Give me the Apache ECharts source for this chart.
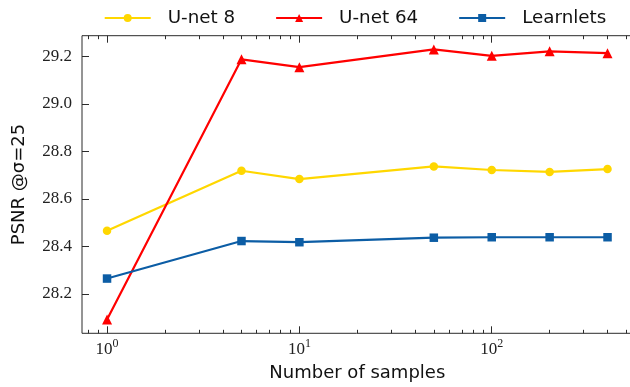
<!DOCTYPE html>
<html>
<head>
<meta charset="utf-8">
<script src="https://cdn.jsdelivr.net/npm/echarts@6/dist/echarts.min.js"></script>
<style>
html,body{margin:0;padding:0;background:#fff;}
#chart{width:630px;height:387px;}
</style>
</head>
<body>
<div id="chart"></div>
<script>
// ---- data ----
const samples = [1, 5, 10, 50, 100, 200, 400];
const unet8 = [28.466, 28.719, 28.684, 28.737, 28.722, 28.714, 28.726];
const unet64 = [28.093, 29.188, 29.155, 29.230, 29.203, 29.222, 29.214];
const learnlets = [28.265, 28.423, 28.418, 28.437, 28.439, 28.439, 28.439];
const seriesNames = ['U-net 8', 'U-net 64', 'Learnlets'];
const xMajorTicks = [1, 10, 100];
const xMinorTicks = [0.8, 0.9, 2, 3, 4, 5, 6, 7, 8, 9, 20, 30, 40, 50, 60, 70, 80, 90, 200, 300, 400, 500];
const yTicks = [28.2, 28.4, 28.6, 28.8, 29.0, 29.2];

const xMin = 0.741, xMax = 540;
const yMin = 28.0345, yMax = 29.2876;

const pairs = ys => samples.map((x, i) => [x, ys[i]]);

const spine = '#2b2b2b';
const serif = '"Liberation Serif", "DejaVu Serif", serif';
const sans = '"DejaVu Sans", sans-serif';

const gridPos = { left: 82, top: 35.7, width: 550.6, height: 297.6, outerBoundsMode: 'none', containLabel: false };

function xAxisDef(gridIndex, position, ticks, len, withLabels) {
  return {
    type: 'log', logBase: 10, gridIndex, position, min: xMin, max: xMax,
    axisLine: { show: false },
    splitLine: { show: false },
    minorTick: { show: false },
    axisTick: { show: true, inside: true, length: len, customValues: ticks,
      lineStyle: { color: spine, width: 1 } },
    axisLabel: withLabels ? {
      show: true, customValues: xMajorTicks, margin: 4.5,
      formatter: v => '{b|10}{s|' + Math.round(Math.log10(v)) + '}',
      rich: {
        b: { fontFamily: serif, fontSize: 17, color: '#222' },
        s: { fontFamily: serif, fontSize: 12, color: '#222', padding: [0, 0, 12, 0] }
      }
    } : { show: false }
  };
}

const chart = echarts.init(document.getElementById('chart'), null, { renderer: 'canvas' });
chart.setOption({
  animation: false,
  backgroundColor: '#ffffff',
  grid: [
    Object.assign({ show: true, borderColor: spine, borderWidth: 1, backgroundColor: 'transparent' }, gridPos),
    Object.assign({ show: false }, gridPos)
  ],
  legend: {
    data: seriesNames,
    left: 103.7, top: 9, padding: 0,
    itemWidth: 46, itemHeight: 10, itemGap: 40,
    textStyle: { fontFamily: sans, fontSize: 18.3, color: '#111', padding: [0, 0, 0, 12] }
  },
  xAxis: [
    Object.assign(xAxisDef(0, 'bottom', xMajorTicks, 7, true), {
      name: 'Number of samples', nameLocation: 'middle', nameGap: 31, nameMoveOverlap: false,
      nameTextStyle: { fontFamily: sans, fontSize: 18, color: '#111' }
    }),
    xAxisDef(0, 'top', xMajorTicks, 7, false),
    xAxisDef(1, 'bottom', xMinorTicks, 3.5, false),
    xAxisDef(1, 'top', xMinorTicks, 3.5, false)
  ],
  yAxis: [
    {
      type: 'value', gridIndex: 0, position: 'left', min: yMin, max: yMax,
      name: 'PSNR @\u03c3=25', nameLocation: 'middle', nameGap: 54, nameMoveOverlap: false,
      nameTextStyle: { fontFamily: sans, fontSize: 18, color: '#111' },
      axisLine: { show: false },
      splitLine: { show: false },
      axisTick: { show: true, inside: true, length: 7, customValues: yTicks,
        lineStyle: { color: spine, width: 1 } },
      axisLabel: { show: true, customValues: yTicks, margin: 10,
        formatter: v => v.toFixed(1),
        fontFamily: serif, fontSize: 17, color: '#222' }
    },
    { type: 'value', gridIndex: 1, min: yMin, max: yMax, show: false }
  ],
  series: [
    { name: seriesNames[0], type: 'line', xAxisIndex: 0, yAxisIndex: 0, data: pairs(unet8),
      symbol: 'circle', symbolSize: 8.5, color: '#FFD700',
      lineStyle: { width: 2.2, color: '#FFD700' }, itemStyle: { color: '#FFD700' } },
    { name: seriesNames[1], type: 'line', xAxisIndex: 0, yAxisIndex: 0, data: pairs(unet64),
      symbol: 'triangle', symbolSize: 10, color: '#FF0000',
      lineStyle: { width: 2.2, color: '#FF0000' }, itemStyle: { color: '#FF0000' } },
    { name: seriesNames[2], type: 'line', xAxisIndex: 0, yAxisIndex: 0, data: pairs(learnlets),
      symbol: 'rect', symbolSize: 8.5, color: '#0C5DA5',
      lineStyle: { width: 2.2, color: '#0C5DA5' }, itemStyle: { color: '#0C5DA5' } }
  ]
});
</script>
</body>
</html>
